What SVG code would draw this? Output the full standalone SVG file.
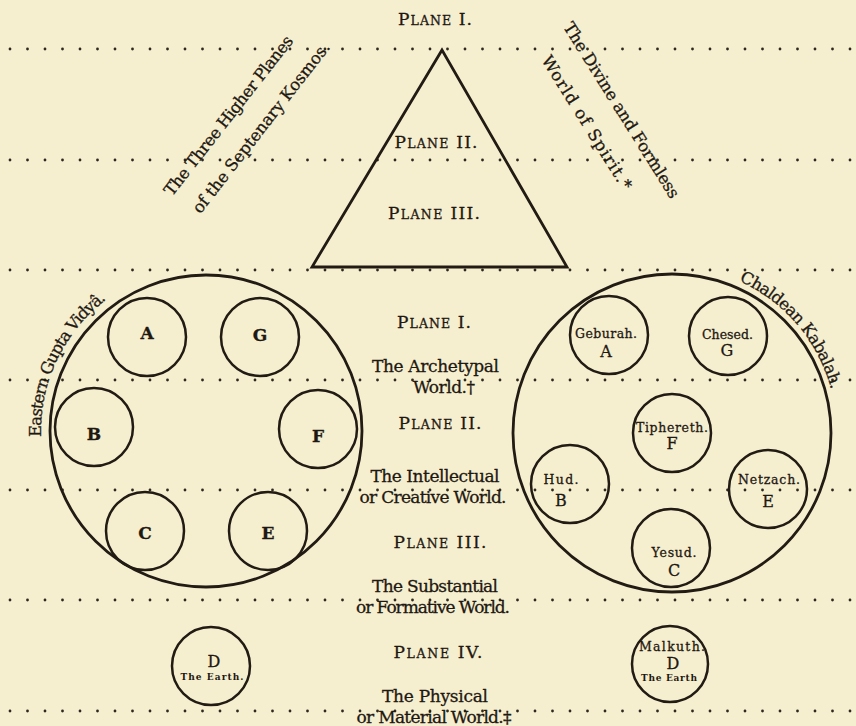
<svg xmlns="http://www.w3.org/2000/svg" width="856" height="726" viewBox="0 0 856 726">
<defs>
<style>
.bg{fill:#f6efcf}
.dots{stroke:#2e2820;stroke-width:2.8;stroke-linecap:round;stroke-dasharray:0 17.5;fill:none}
.ring{fill:none;stroke:#211b14;stroke-width:2.8}
.sm{fill:none;stroke:#211b14;stroke-width:2.5}
text{font-family:"DejaVu Serif","Liberation Serif",serif;fill:#1e1812;stroke:#1e1812;stroke-width:0.3}
.lbl{font-size:16.5px}
.cap{font-size:17px}
.sc{font-size:12.5px}
.mid{text-anchor:middle}
.let{font-size:17px;font-weight:bold;text-anchor:middle}
.nm{font-size:12.5px;text-anchor:middle}
.ltr{font-size:16px;text-anchor:middle}
.tiny{font-size:9px;text-anchor:middle;font-weight:bold;stroke-width:0}
</style>
<path id="arcL" d="M41.1 436.8 A165 165 0 0 1 123.5 288.1"/>
<path id="arcR" d="M739 281 A165 165 0 0 1 832 393"/>
</defs>
<rect class="bg" x="0" y="0" width="856" height="726"/>

<g id="plane-dividers">
<line class="dots" x1="10" y1="49" x2="852" y2="49"/>
<line class="dots" x1="10" y1="160" x2="852" y2="160"/>
<line class="dots" x1="10" y1="270" x2="852" y2="270"/>
<line class="dots" x1="10" y1="380" x2="852" y2="380"/>
<line class="dots" x1="10" y1="490" x2="852" y2="490"/>
<line class="dots" x1="10" y1="600" x2="852" y2="600"/>
<line class="dots" x1="10" y1="711" x2="852" y2="711"/>
</g>

<g id="triangle">
<polygon points="442,50 312,267 567,267" fill="none" stroke="#211b14" stroke-width="2.8" stroke-linejoin="miter"/>
<text class="mid" x="435" y="25" textLength="74"><tspan class="cap">P</tspan><tspan class="sc">LANE</tspan><tspan class="cap"> I.</tspan></text>
<text class="mid" x="436" y="148" textLength="83"><tspan class="cap">P</tspan><tspan class="sc">LANE</tspan><tspan class="cap"> II.</tspan></text>
<text class="mid" x="434" y="219" textLength="92"><tspan class="cap">P</tspan><tspan class="sc">LANE</tspan><tspan class="cap"> III.</tspan></text>
</g>

<g id="higher-planes-label">
<text class="lbl mid" transform="translate(233 119) rotate(-52)" textLength="198">The Three Higher Planes</text>
<text class="lbl mid" transform="translate(265.5 131) rotate(-52)" textLength="212">of the Septenary Kosmos.</text>
</g>

<g id="divine-world-label">
<text class="lbl mid" transform="translate(616.8 113.3) rotate(58)" textLength="204">The Divine and Formless</text>
<text class="lbl mid" transform="translate(582 125.6) rotate(58)" textLength="155">World  of  Spirit.*</text>
</g>

<g id="plane-labels">
<text class="mid" x="434" y="328" textLength="74"><tspan class="cap">P</tspan><tspan class="sc">LANE</tspan><tspan class="cap"> I.</tspan></text>
<text class="cap mid" x="435.5" y="372" textLength="127">The Archetypal</text>
<text class="cap mid" x="444" y="393" textLength="62">World.†</text>
<text class="mid" x="440" y="429" textLength="83"><tspan class="cap">P</tspan><tspan class="sc">LANE</tspan><tspan class="cap"> II.</tspan></text>
<text class="cap mid" x="435" y="482" textLength="129">The Intellectual</text>
<text class="cap mid" x="433" y="503" textLength="147">or Creative World.</text>
<text class="mid" x="440" y="548" textLength="93"><tspan class="cap">P</tspan><tspan class="sc">LANE</tspan><tspan class="cap"> III.</tspan></text>
<text class="cap mid" x="435" y="592" textLength="126">The Substantial</text>
<text class="cap mid" x="433" y="613" textLength="154">or Formative World.</text>
<text class="mid" x="438" y="658" textLength="89"><tspan class="cap">P</tspan><tspan class="sc">LANE</tspan><tspan class="cap"> IV.</tspan></text>
<text class="cap mid" x="435" y="702" textLength="106">The Physical</text>
<text class="cap mid" x="434" y="723" textLength="155">or Material World.‡</text>
</g>

<g id="eastern-gupta-vidya">
<circle class="ring" cx="206" cy="431" r="156"/>
<text class="lbl"><textPath href="#arcL" textLength="158">Eastern Gupta Vidyâ.</textPath></text>
</g>
<g id="east-A"><circle class="sm" cx="147" cy="337" r="39"/><text class="let" x="147" y="339">A</text></g>
<g id="east-G"><circle class="sm" cx="260" cy="337" r="39"/><text class="let" x="260" y="341">G</text></g>
<g id="east-B"><circle class="sm" cx="94" cy="427" r="39"/><text class="let" x="94" y="440">B</text></g>
<g id="east-F"><circle class="sm" cx="318" cy="429" r="39"/><text class="let" x="318" y="442">F</text></g>
<g id="east-C"><circle class="sm" cx="145" cy="531" r="39"/><text class="let" x="145" y="539">C</text></g>
<g id="east-E"><circle class="sm" cx="268" cy="531" r="39"/><text class="let" x="268" y="539">E</text></g>
<g id="east-D"><circle class="sm" cx="211" cy="666" r="39"/><text class="ltr" x="214" y="667">D</text><text class="tiny" x="212" y="680" textLength="63">The Earth.</text></g>

<g id="chaldean-kabalah">
<circle class="ring" cx="672" cy="433" r="159"/>
<text class="lbl"><textPath href="#arcR" textLength="147">Chaldean Kabalah.</textPath></text>
</g>
<g id="kab-geburah"><circle class="sm" cx="609" cy="335" r="39"/><text class="nm" x="606" y="338" textLength="62">Geburah.</text><text class="ltr" x="606" y="357">A</text></g>
<g id="kab-chesed"><circle class="sm" cx="728" cy="336" r="39"/><text class="nm" x="727.5" y="339" textLength="51">Chesed.</text><text class="ltr" x="727" y="356">G</text></g>
<g id="kab-tiphereth"><circle class="sm" cx="672" cy="433" r="39"/><text class="nm" x="672" y="432" textLength="72">Tiphereth.</text><text class="ltr" x="672" y="449">F</text></g>
<g id="kab-hud"><circle class="sm" cx="570" cy="484" r="39"/><text class="nm" x="561" y="484" textLength="35">Hud.</text><text class="ltr" x="561" y="506">B</text></g>
<g id="kab-netzach"><circle class="sm" cx="768" cy="489" r="39"/><text class="nm" x="769" y="484" textLength="62">Netzach.</text><text class="ltr" x="768" y="507">E</text></g>
<g id="kab-yesud"><circle class="sm" cx="671" cy="548" r="39"/><text class="nm" x="674" y="557" textLength="45">Yesud.</text><text class="ltr" x="674" y="576">C</text></g>
<g id="kab-malkuth"><circle class="sm" cx="670" cy="664" r="38"/><text class="nm" x="672" y="651" textLength="66">Malkuth.</text><text class="ltr" x="673" y="669">D</text><text class="tiny" x="669" y="681" textLength="56">The Earth</text></g>
</svg>
